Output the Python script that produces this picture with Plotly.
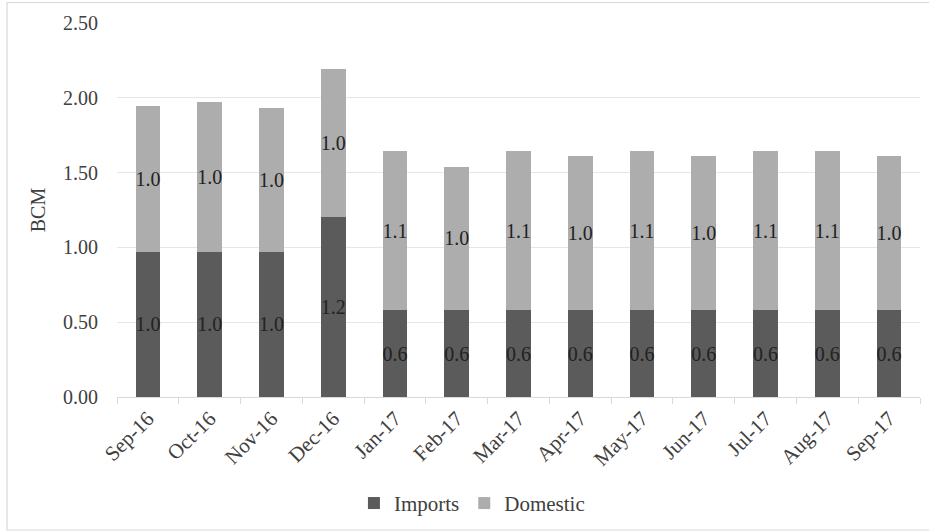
import plotly.graph_objects as go

months = ["Sep-16", "Oct-16", "Nov-16", "Dec-16", "Jan-17", "Feb-17", "Mar-17",
          "Apr-17", "May-17", "Jun-17", "Jul-17", "Aug-17", "Sep-17"]
imports = [0.97, 0.97, 0.97, 1.20, 0.58, 0.58, 0.58, 0.58, 0.58, 0.58, 0.58, 0.58, 0.58]
domestic = [0.975, 1.00, 0.965, 0.99, 1.065, 0.96, 1.065, 1.03, 1.065, 1.03, 1.065, 1.065, 1.03]
yticks = [0, 0.5, 1.0, 1.5, 2.0, 2.5]

FONT = "Liberation Serif, Times New Roman, serif"
W, H = 929, 531
ML, MR, MT, MB = 117, 9, 23, 134
PW, PH = W - ML - MR, H - MT - MB

fig = go.Figure()
fig.add_trace(go.Bar(
    x=months, y=imports, name="Imports",
    marker=dict(color="#5b5b5b", line=dict(width=0)),
    texttemplate="%{y:.1f}", textposition="inside", insidetextanchor="middle",
    textangle=0, constraintext="none",
    textfont=dict(family=FONT, size=20, color="#222222"),
))
fig.add_trace(go.Bar(
    x=months, y=domestic, name="Domestic",
    marker=dict(color="#adadad", line=dict(width=0)),
    texttemplate="%{y:.1f}", textposition="inside", insidetextanchor="middle",
    textangle=0, constraintext="none",
    textfont=dict(family=FONT, size=20, color="#222222"),
))

def px_to_paper_x(px):
    return (px - ML) / PW

def px_to_paper_y(py):
    return (H - MB - py) / PH

fig.add_shape(type="rect", xref="paper", yref="paper",
              x0=px_to_paper_x(7), x1=px_to_paper_x(935),
              y0=px_to_paper_y(530), y1=px_to_paper_y(2.5),
              line=dict(color="#d9d9d9", width=1.2), fillcolor="rgba(0,0,0,0)",
              layer="below")

fig.update_layout(
    width=W, height=H,
    barmode="stack", bargap=0.6,
    paper_bgcolor="white", plot_bgcolor="white",
    margin=dict(l=ML, r=MR, t=MT, b=MB, autoexpand=False),
    font=dict(family=FONT, size=20, color="#404040"),
    showlegend=True,
    legend=dict(orientation="h", xref="container", yref="container",
                x=0.508, xanchor="center", y=0.052, yanchor="middle",
                font=dict(family=FONT, size=21, color="#404040"),
                itemwidth=30, traceorder="normal"),
    xaxis=dict(
        type="category", tickangle=-45, tickson="boundaries",
        ticks="outside", ticklen=6, tickcolor="#d9d9d9", tickwidth=1,
        showline=True, linecolor="#d9d9d9", linewidth=1,
        showgrid=False,
        tickfont=dict(family=FONT, size=21, color="#404040"),
    ),
    yaxis=dict(
        range=[0, 2.5], tickvals=yticks, ticktext=[f"{v:.2f}" for v in yticks],
        showgrid=True, gridcolor="#e6e6e6", gridwidth=1,
        zeroline=False, showline=False, ticks="",
        ticklabelstandoff=18,
        tickfont=dict(family=FONT, size=20, color="#404040"),
        title=dict(text="BCM", font=dict(family=FONT, size=20, color="#404040"),
                   standoff=12),
    ),
)

fig.write_html("out.html")
